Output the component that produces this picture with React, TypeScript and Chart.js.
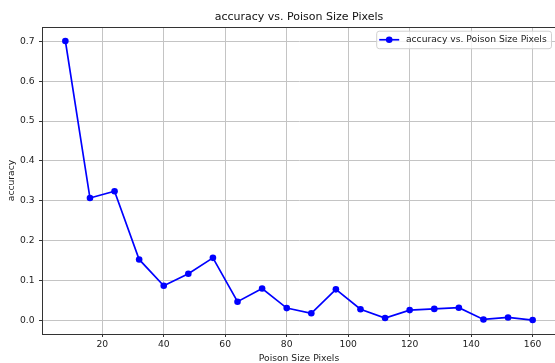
import { useEffect, useRef } from "react";
import { Chart, registerables } from "chart.js";

Chart.register(...registerables);

// Poison patch size (pixels) and the measured accuracy at each size
const poisonSizes = [8, 16, 24, 32, 40, 48, 56, 64, 72, 80, 88, 96, 104, 112, 120, 128, 136, 144, 152, 160];
const accuracy = [
  0.701, 0.307, 0.324, 0.153, 0.087, 0.117, 0.157, 0.047, 0.08, 0.031,
  0.018, 0.078, 0.028, 0.006, 0.026, 0.029, 0.032, 0.0025, 0.0075, 0.001,
];

const xTicks = [20, 40, 60, 80, 100, 120, 140, 160];
const yTicks = [0, 0.1, 0.2, 0.3, 0.4, 0.5, 0.6, 0.7];

const chartTitle = "accuracy vs. Poison Size Pixels";
const seriesLabel = "accuracy vs. Poison Size Pixels";
const xAxisLabel = "Poison Size Pixels";
const yAxisLabel = "accuracy";

const FONT = '"DejaVu Sans", Verdana, sans-serif';
const LINE_BLUE = "#0000ff";
const SPINE = "#333333";
const GRID = "#c4c4c4";

// 5% margins around the data range on both axes
const xSpan = Math.max(...poisonSizes) - Math.min(...poisonSizes);
const ySpan = Math.max(...accuracy) - Math.min(...accuracy);
const xMin = Math.min(...poisonSizes) - xSpan * 0.05;
const xMax = Math.max(...poisonSizes) + xSpan * 0.05;
const yMin = Math.min(...accuracy) - ySpan * 0.05;
const yMax = Math.max(...accuracy) + ySpan * 0.05;

// Closes the axes box (top and right spines)
const frameBox = {
  id: "frameBox",
  afterDatasetsDraw(chart: any) {
    const { ctx, chartArea: a } = chart;
    ctx.save();
    ctx.strokeStyle = SPINE;
    ctx.lineWidth = 1;
    ctx.beginPath();
    ctx.moveTo(a.left, a.top + 0.5);
    ctx.lineTo(a.right, a.top + 0.5);
    ctx.moveTo(a.right - 0.5, a.top);
    ctx.lineTo(a.right - 0.5, a.bottom);
    ctx.stroke();
    ctx.restore();
  },
};

// Legend box in the upper-right corner of the plot
const cornerLegend = {
  id: "cornerLegend",
  afterDraw(chart: any) {
    const { ctx, chartArea: a } = chart;
    const ds = chart.data.datasets[0];
    ctx.save();
    ctx.font = `9.2px ${FONT}`;
    const textW = ctx.measureText(ds.label).width;
    const w = textW + 34;
    const h = 17.5;
    const right = a.right - 5;
    const left = right - w;
    const top = a.top + 3.7;
    ctx.beginPath();
    ctx.roundRect(left + 0.5, top + 0.5, w, h, 2.5);
    ctx.fillStyle = "rgba(255,255,255,0.8)";
    ctx.fill();
    ctx.strokeStyle = "#d0d0d0";
    ctx.lineWidth = 1;
    ctx.stroke();
    const cy = top + h / 2 + 0.3;
    ctx.strokeStyle = ds.borderColor;
    ctx.lineWidth = ds.borderWidth;
    ctx.beginPath();
    ctx.moveTo(left + 3, cy);
    ctx.lineTo(left + 23, cy);
    ctx.stroke();
    ctx.fillStyle = ds.pointBackgroundColor;
    ctx.beginPath();
    ctx.arc(left + 13, cy, ds.pointRadius, 0, Math.PI * 2);
    ctx.fill();
    ctx.fillStyle = "#222";
    ctx.textBaseline = "middle";
    ctx.textAlign = "left";
    ctx.fillText(ds.label, left + 29.7, cy);
    ctx.restore();
  },
};

export default function App() {
  const canvasRef = useRef<HTMLCanvasElement | null>(null);

  useEffect(() => {
    document.documentElement.style.overflow = "hidden";
    document.body.style.overflow = "hidden";
    const canvas = canvasRef.current;
    if (!canvas) return;
    const chart = new Chart(canvas, {
      type: "line",
      data: {
        datasets: [
          {
            label: seriesLabel,
            data: poisonSizes.map((x, i) => ({ x, y: accuracy[i] })),
            borderColor: LINE_BLUE,
            backgroundColor: LINE_BLUE,
            pointBackgroundColor: LINE_BLUE,
            pointBorderColor: LINE_BLUE,
            borderWidth: 1.7,
            pointRadius: 3.3,
            pointBorderWidth: 0,
            tension: 0,
            fill: false,
          },
        ],
      },
      options: {
        responsive: false,
        animation: false,
        events: [],
        layout: { padding: { left: 0, right: 2, top: 0, bottom: 0 } },
        plugins: {
          legend: { display: false },
          tooltip: { enabled: false },
          title: {
            display: true,
            fullSize: false,
            text: chartTitle,
            color: "#111",
            font: { family: FONT, size: 11, weight: "normal", lineHeight: 1.2 },
            padding: { top: 10.4, bottom: 3.4 },
          },
        },
        scales: {
          x: {
            type: "linear",
            min: xMin,
            max: xMax,
            afterBuildTicks: (scale: any) => {
              scale.ticks = xTicks.map((value) => ({ value }));
            },
            afterFit: (scale: any) => {
              scale.height = 29;
            },
            ticks: {
              color: "#222",
              font: { family: FONT, size: 9.2 },
              padding: 2.5,
              maxRotation: 0,
              autoSkip: false,
              callback: (v: any) => String(v),
            },
            grid: { color: GRID, lineWidth: 1, tickLength: 3, tickColor: SPINE, drawTicks: true },
            border: { display: true, color: SPINE, width: 1 },
            title: {
              display: true,
              text: xAxisLabel,
              color: "#222",
              font: { family: FONT, size: 9.2, lineHeight: 1 },
              padding: { top: 0, bottom: 0 },
            },
          },
          y: {
            type: "linear",
            min: yMin,
            max: yMax,
            afterBuildTicks: (scale: any) => {
              scale.ticks = yTicks.map((value) => ({ value }));
            },
            afterFit: (scale: any) => {
              scale.width = 42;
            },
            ticks: {
              color: "#222",
              font: { family: FONT, size: 9.2 },
              padding: 4.5,
              autoSkip: false,
              callback: (v: any) => Number(v).toFixed(1),
            },
            grid: { color: GRID, lineWidth: 1, tickLength: 3, tickColor: SPINE, drawTicks: true },
            border: { display: true, color: SPINE, width: 1 },
            title: {
              display: true,
              text: yAxisLabel,
              color: "#222",
              font: { family: FONT, size: 9.2, lineHeight: 1.2 },
              padding: { top: 6, bottom: 0 },
            },
          },
        },
      },
      plugins: [frameBox, cornerLegend],
    } as any);
    return () => chart.destroy();
  }, []);

  return (
    <canvas
      ref={canvasRef}
      width={560}
      height={363}
      style={{ position: "fixed", left: 0, top: 0, width: 560, height: 363, display: "block" }}
    />
  );
}
